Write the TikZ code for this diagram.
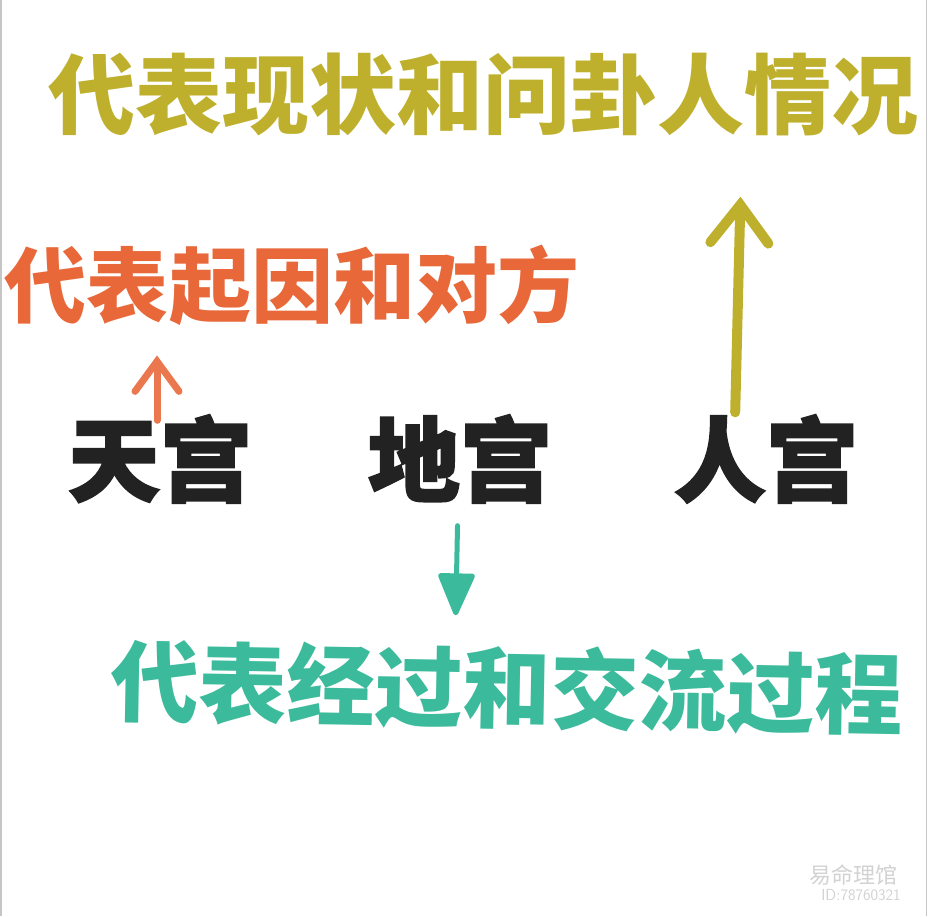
\documentclass[tikz,border=0pt]{standalone}
\usepackage{fontspec}
\usepackage{xcolor}
\usepackage{tikz}
\usetikzlibrary{arrows.meta,positioning,calc}
\newfontfamily\cjk{Noto Sans CJK SC}
\newfontfamily\cjkheavy{Noto Sans CJK SC}[FakeBold=2]
\definecolor{xzyellow}{RGB}{190,176,44}
\definecolor{qyorange}{RGB}{232,104,58}
\definecolor{jggreen}{RGB}{60,186,156}
\definecolor{gonggray}{RGB}{34,34,34}

\begin{document}
\begin{tikzpicture}[
    x=1pt, y=-1pt,
    palace/.style={inner sep=0pt, text height=74pt, text depth=7pt, text=gonggray, font=\cjkheavy\bfseries\fontsize{92}{92}\selectfont},
    chalk/.style={inner sep=0pt, font=\cjk\bfseries\fontsize{#1}{#1}\selectfont},
    barb_line/.style={draw, line cap=round, line join=round, -{Straight Barb[length=38pt, width=58pt, line cap=round]}},
    tri_line/.style={draw, line cap=round, -{Triangle[length=46pt, width=38pt, round]}}
]
\useasboundingbox (0,0) rectangle (928,916);
\draw[gray!45, line width=1.5pt] (1,0) -- (1,916);
\draw[gray!45, line width=1.5pt] (926.5,0) -- (926.5,916);

% Nodes
\node[palace] (tian) at (160,461) {天宫};
\node[palace] (di) at (460,461) {地宫};
\node[palace] (ren) at (766,461) {人宫};

\node[chalk=87, text height=70pt, text depth=7pt, text=xzyellow] (xianzhuang) at (483,96) {代表现状和问卦人情况};
\node[chalk=82, text height=66pt, text depth=6.5pt, text=qyorange] (qiyin) at (292,287) {代表起因和对方};
\node[chalk=88, text height=70pt, text depth=7pt, text=jggreen, rotate=-1] (jingguo) at (507,690) {代表经过和交流过程};

\node[font=\cjk\fontsize{22}{22}\selectfont, text=gray!35] (wmname) at (853,875) {易命理馆};
\node[font=\sffamily\fontsize{16}{16}\selectfont, text=gray!35, below=-3pt of wmname, xshift=8pt] (wmid) {ID:78760321};

% Connections
\path[barb_line, line width=7pt, draw=qyorange!90, arrows={-Straight Barb[length=30pt, width=44pt, line cap=round]}, shorten >=32pt]
    ([xshift=-3pt]tian.north) -- ([xshift=-3pt]tian.north |- qiyin.south);
\path[barb_line, line width=10pt, draw=xzyellow, shorten <=8pt, shorten >=62pt]
    ([xshift=-31pt]ren.north) -- ([xshift=-24pt]ren.north |- xianzhuang.south);
\path[tri_line, line width=5pt, draw=jggreen, fill=jggreen, shorten <=24pt, shorten >=36pt]
    ([xshift=-2pt]di.south) -- ([xshift=-5pt]di.south |- jingguo.north);

\end{tikzpicture}
\end{document}
